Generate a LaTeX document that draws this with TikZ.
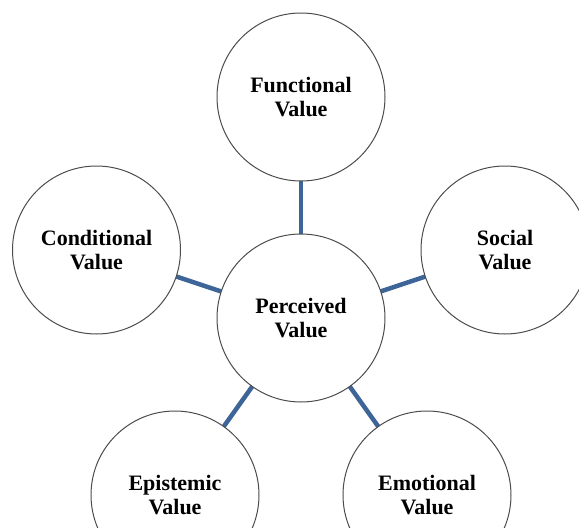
\documentclass[tikz,border=0pt]{standalone}
\usepackage{fontspec}
\setmainfont{Liberation Serif}
\begin{document}
\begin{tikzpicture}[x=1pt,y=-1pt,
  valuecircle/.style={circle, draw=black!70, line width=1pt, fill=white, minimum size=168pt, inner sep=0pt,
    align=center, font=\fontsize{22}{24}\selectfont\bfseries},
  link/.style={draw=linkblue, line width=4.5pt}]
\definecolor{linkblue}{RGB}{62,101,152}
\useasboundingbox (0,0) rectangle (579,528);
\clip (0,0) rectangle (579,528);
\coordinate (cP) at (301,318);
\coordinate (cF) at (301,97);
\coordinate (cC) at (96.5,250);
\coordinate (cS) at (505,250);
\coordinate (cE) at (175,495);
\coordinate (cM) at (427,495);
\draw[link] (cP) -- (cF);
\draw[link] (cP) -- (cC);
\draw[link] (cP) -- (cS);
\draw[link] (cP) -- (cE);
\draw[link] (cP) -- (cM);
\node[valuecircle] (P) at (cP) {Perceived\\Value};
\node[valuecircle] (F) at (cF) {Functional\\Value};
\node[valuecircle] (C) at (cC) {Conditional\\Value};
\node[valuecircle] (S) at (cS) {Social\\Value};
\node[valuecircle] (E) at (cE) {Epistemic\\Value};
\node[valuecircle] (M) at (cM) {Emotional\\Value};
\end{tikzpicture}
\end{document}
